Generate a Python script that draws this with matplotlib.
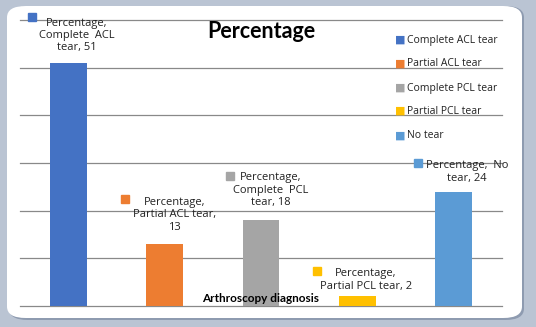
import matplotlib
matplotlib.use('Agg')
import matplotlib.pyplot as plt
from matplotlib.patches import FancyBboxPatch

# data
categories = ['Complete ACL tear', 'Partial ACL tear', 'Complete PCL tear',
              'Partial PCL tear', 'No tear']
values = [51, 13, 18, 2, 24]
colors = ['#4472C4', '#ED7D31', '#A5A5A5', '#FFC000', '#5B9BD5']
label_texts = ['Percentage,\nComplete  ACL\ntear, 51',
               'Percentage,\nPartial ACL tear,\n13',
               'Percentage,\nComplete  PCL\ntear, 18',
               'Percentage,\nPartial PCL tear, 2',
               'Percentage,  No\ntear, 24']

# label placement (data coords): text centre and marker square
label_pos = [(0.09, 56.8), (1.10, 19.1), (2.10, 24.3), (3.09, 5.45), (4.14, 28.1)]
marker_pos = [(-0.38, 60.6), (0.59, 22.4), (1.68, 27.3), (2.58, 7.3), (3.63, 30.0)]

W, H = 536, 327
fig = plt.figure(figsize=(W / 100, H / 100), dpi=100)
fig.patch.set_facecolor('#BAC4D3')

# white rounded panel with a soft shadow
shadow = FancyBboxPatch((9 / W, 7 / H), (524 - 9) / W, (321 - 7) / H,
                        boxstyle='round,pad=0,rounding_size=0.035',
                        transform=fig.transFigure, facecolor='#8E9BB0',
                        edgecolor='none', zorder=-3)
fig.patches.append(shadow)
panel = FancyBboxPatch((7 / W, 9 / H), (522 - 7) / W, (321 - 9) / H,
                       boxstyle='round,pad=0,rounding_size=0.035',
                       transform=fig.transFigure, facecolor='white',
                       edgecolor='none', zorder=-2)
fig.patches.append(panel)

ax = fig.add_axes([20 / W, (H - 306) / H, (502 - 20) / W, (306 - 20) / H])
ax.set_zorder(1)
ax.set_facecolor('none')
ax.set_xlim(-0.5, 4.5)
ax.set_ylim(0, 60)
for y in range(0, 61, 10):
    ax.axhline(y, color='#898989', lw=0.9, zorder=1, clip_on=False)
for s in ax.spines.values():
    s.set_visible(False)
ax.set_xticks([])
ax.set_yticks([])

x = list(range(len(categories)))
ax.bar(x, values, width=0.38, color=colors, zorder=2)

lab_font = ['Open Sans', 'DejaVu Sans']
for i in x:
    ax.text(label_pos[i][0], label_pos[i][1], label_texts[i], ha='center', va='center',
            fontsize=8, family=lab_font, color='#222222', linespacing=1.15,
            zorder=4, clip_on=False)
    ax.plot(marker_pos[i][0], marker_pos[i][1], marker='s', ms=5.5, color=colors[i],
            zorder=4, clip_on=False)

# legend
leg_y = [40, 64, 88, 111, 136]
for i, name in enumerate(categories):
    fig.text(400 / W, 1 - leg_y[i] / H, '\u25A0', color=colors[i], fontsize=8,
             ha='center', va='center', family=lab_font)
    fig.text(407 / W, 1 - leg_y[i] / H, name, color='#222222', fontsize=7.5,
             ha='left', va='center', family=lab_font)

fig.text(261 / W, 1 - 32 / H, 'Percentage', fontsize=15.5, fontweight='bold',
         family=['Lato', 'DejaVu Sans'], ha='center', va='center')
fig.text(261 / W, 1 - 298 / H, 'Arthroscopy diagnosis', fontsize=8.5, fontweight='bold',
         family=['Lato', 'DejaVu Sans'], ha='center', va='center', zorder=5)

fig.savefig('out.png', dpi=100, facecolor=fig.get_facecolor())
